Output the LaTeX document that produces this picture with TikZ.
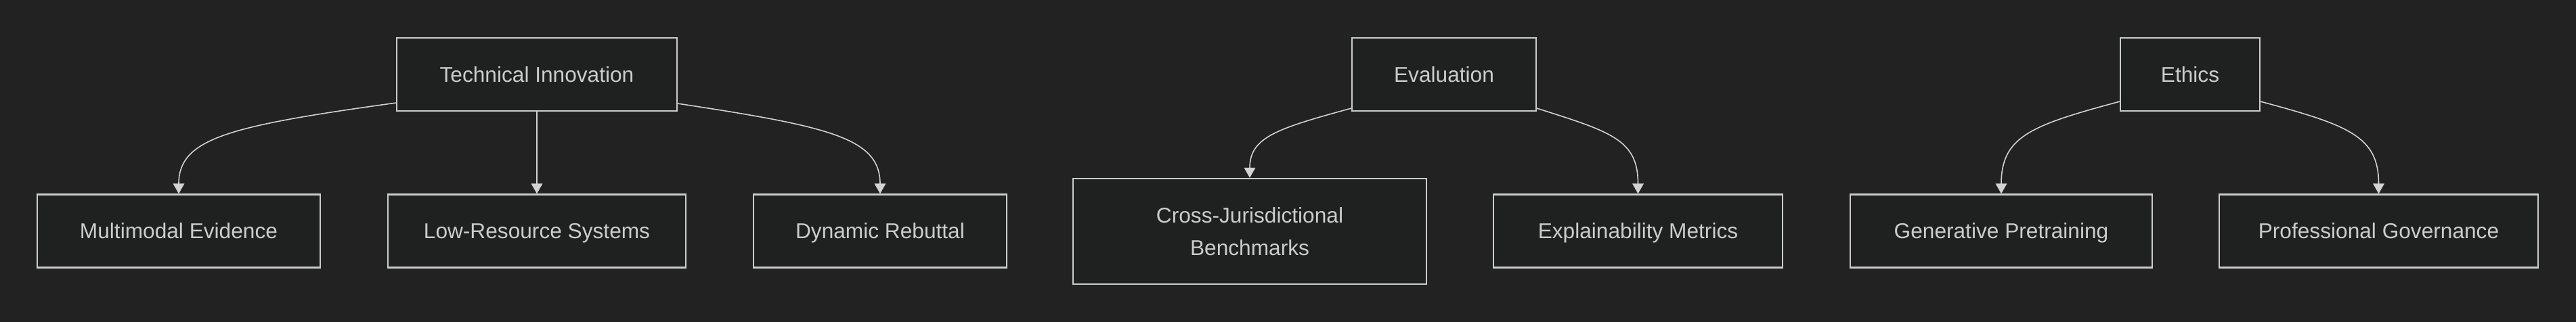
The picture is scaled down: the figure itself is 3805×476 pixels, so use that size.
\documentclass[tikz,border=0pt]{standalone}
\usepackage{fontspec}
\setmainfont{Liberation Sans}
\usetikzlibrary{arrows.meta}
\definecolor{bgdark}{HTML}{222222}
\definecolor{boxfill}{HTML}{1F2020}
\definecolor{boxline}{HTML}{CCCCCC}
\definecolor{edgeline}{HTML}{D3D3D3}
\begin{document}
\begin{tikzpicture}[x=0.01cm,y=-0.01cm,
  every node/.style={font=\fontsize{9}{13.8}\selectfont,text=boxline},
  box/.style={draw=boxline,fill=boxfill,line width=0.6pt,minimum height=1.08cm,minimum width=#1,inner sep=0pt,align=center,text height=0.85em,text depth=0.22em},
  link/.style={draw=edgeline,line width=0.45pt,-{Triangle[length=0.15cm,width=0.165cm]}}]
\fill[bgdark] (0,0) rectangle (3805,476);
\node[box=4.14cm] (tech) at (793,110) {Technical Innovation};
\node[box=2.72cm] (eval) at (2133,110) {Evaluation};
\node[box=2.06cm] (ethics) at (3235,110) {Ethics};
\node[box=4.18cm] (multi) at (264,341.5) {Multimodal Evidence};
\node[box=4.40cm] (lowres) at (793,341.5) {Low-Resource Systems};
\node[box=3.73cm] (rebut) at (1300,341.5) {Dynamic Rebuttal};
\node[box=5.21cm,minimum height=1.56cm,text height={},text depth={}] (cross) at (1846,342) {Cross-Jurisdictional\\Benchmarks};
\node[box=4.27cm] (explain) at (2419.5,341.5) {Explainability Metrics};
\node[box=4.46cm] (gen) at (2956,341.5) {Generative Pretraining};
\node[box=4.71cm] (gov) at (3513.5,341.5) {Professional Governance};
\draw[link] ([yshift=0.13cm]tech.south west) .. controls +(-246,34) and +(0,-82) .. (multi.north);
\draw[link] (tech.south) -- (lowres.north);
\draw[link] ([yshift=0.12cm]tech.south east) .. controls +(225,34) and +(0,-82) .. (rebut.north);
\draw[link] ([yshift=0.05cm]eval.south west) .. controls +(-110,30) and +(0,-60) .. (cross.north);
\draw[link] ([yshift=0.05cm]eval.south east) .. controls +(110,35) and +(0,-80) .. (explain.north);
\draw[link] ([yshift=0.15cm]ethics.south west) .. controls +(-130,35) and +(0,-85) .. (gen.north);
\draw[link] ([yshift=0.15cm]ethics.south east) .. controls +(130,35) and +(0,-85) .. (gov.north);
\end{tikzpicture}
\end{document}
